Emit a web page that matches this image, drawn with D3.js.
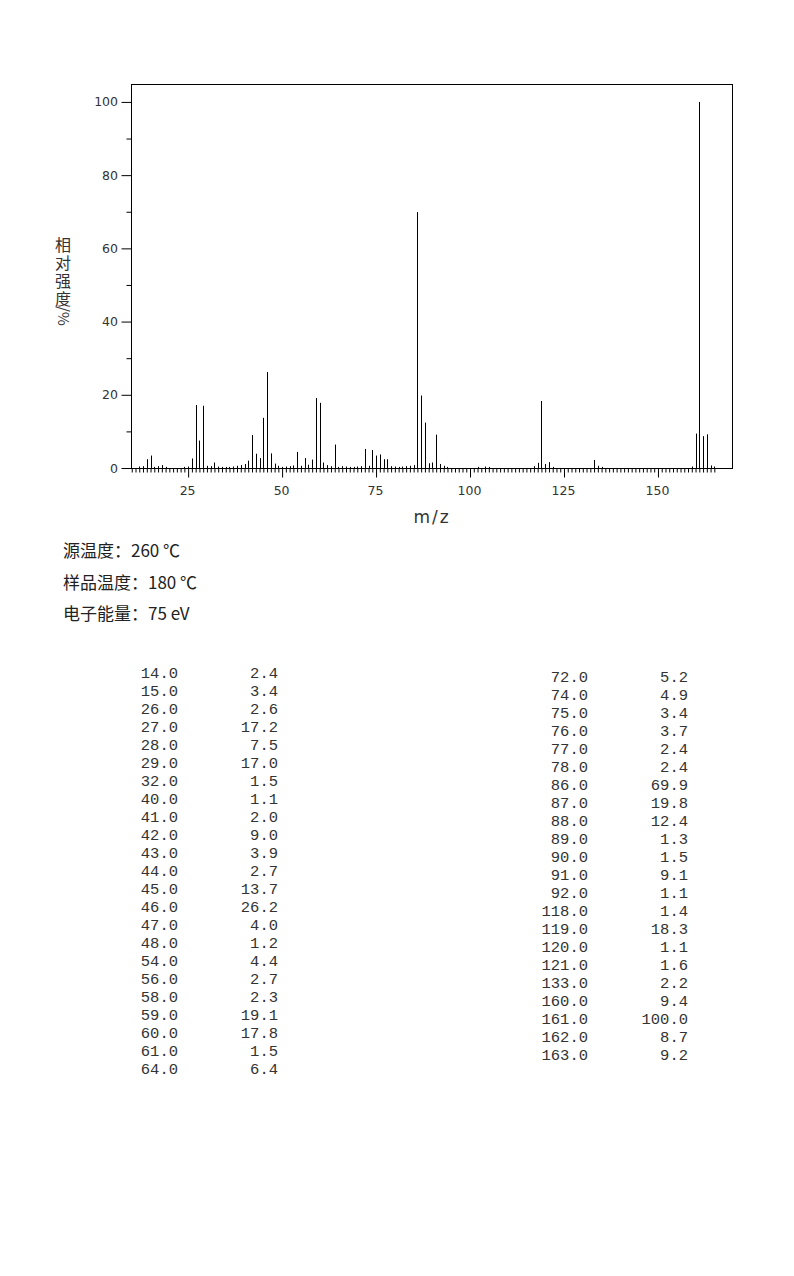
<!DOCTYPE html>
<html>
<head>
<meta charset="utf-8">
<script src="https://cdn.jsdelivr.net/npm/d3@7"></script>
<style>
  body { margin: 0; background: #fff; }
  .tick-label { font-family: 'DejaVu Sans', sans-serif; font-size: 12.5px; fill: #333; }
  .info { font-family: 'Noto Sans CJK SC', sans-serif; font-size: 17px; fill: #222; }
  .peak-table { font-family: 'Liberation Mono', monospace; font-size: 15.5px; fill: #333; }
</style>
</head>
<body>
<svg width="794" height="1276"></svg>
<script>
(function (d3) {
  'use strict';

  // peaks listed in the table (m/z, relative intensity %)
  const peakMz = [14, 15, 26, 27, 28, 29, 32, 40, 41, 42, 43, 44, 45, 46, 47, 48, 54, 56, 58, 59, 60, 61, 64,
    72, 74, 75, 76, 77, 78, 86, 87, 88, 89, 90, 91, 92, 118, 119, 120, 121, 133, 160, 161, 162, 163];
  const peakInt = [2.4, 3.4, 2.6, 17.2, 7.5, 17.0, 1.5, 1.1, 2.0, 9.0, 3.9, 2.7, 13.7, 26.2, 4.0, 1.2, 4.4, 2.7, 2.3, 19.1, 17.8, 1.5, 6.4,
    5.2, 4.9, 3.4, 3.7, 2.4, 2.4, 69.9, 19.8, 12.4, 1.3, 1.5, 9.1, 1.1, 1.4, 18.3, 1.1, 1.6, 2.2, 9.4, 100.0, 8.7, 9.2];

  // small peaks seen in the plot but not listed (estimated)
  const minorMz = [12, 13, 16, 17, 18, 19, 24, 25, 30, 31, 33, 34, 35, 36, 37, 38, 39, 49, 50, 51, 52, 53, 55, 57,
    62, 63, 65, 66, 67, 68, 69, 70, 71, 73, 79, 80, 81, 82, 83, 84, 85, 93, 94, 102, 104, 105, 117, 122, 134, 135, 159, 164, 165];
  const minorInt = [0.4, 0.5, 0.3, 0.5, 0.8, 0.3, 0.3, 0.4, 0.6, 0.5, 0.4, 0.3, 0.3, 0.3, 0.4, 0.6, 0.8, 0.6, 0.3, 0.4, 0.5, 0.7, 0.6, 0.9,
    0.8, 0.5, 0.3, 0.5, 0.4, 0.3, 0.3, 0.4, 0.5, 0.6, 0.5, 0.4, 0.3, 0.4, 0.5, 0.6, 0.8, 0.6, 0.3, 0.3, 0.4, 0.3, 0.5, 0.3, 0.6, 0.3, 0.4, 0.7, 0.4];

  const xTickValues = [25, 50, 75, 100, 125, 150];
  const yTickValues = [0, 20, 40, 60, 80, 100];
  const infoLines = ['源温度：260 ℃', '样品温度：180 ℃', '电子能量：75 eV'];
  const yLabelChars = ['相', '对', '强', '度'];
  const yLabelUnit = '/%';
  const xLabel = 'm/z';

  const svg = d3.select('svg');
  const margin = { top: 84, left: 131, right: 732, bottom: 468 };

  const xScale = d3.scaleLinear()
    .domain([9.8, 169.7])
    .range([margin.left, margin.right]);

  const yScale = d3.scaleLinear()
    .domain([0, 104.9])
    .range([margin.bottom, margin.top]);

  const peaks = peakMz.map((mz, i) => ({ mz, value: peakInt[i] }))
    .concat(minorMz.map((mz, i) => ({ mz, value: minorInt[i] })));

  // frame
  svg.append('rect')
    .attr('x', margin.left + 0.5)
    .attr('y', margin.top + 0.5)
    .attr('width', margin.right - margin.left)
    .attr('height', margin.bottom - margin.top)
    .attr('fill', 'none')
    .attr('stroke', '#000');

  // x axis: a tick for every mass, long ones with labels
  const xAxis = d3.axisBottom(xScale)
    .tickValues(d3.range(10, 166))
    .tickSize(4)
    .tickFormat('');
  const xAxisG = svg.append('g')
    .attr('transform', `translate(0,${margin.bottom + 0.5})`)
    .call(xAxis);
  xAxisG.select('.domain').remove();
  xAxisG.selectAll('.tick line')
    .attr('y2', d => (d % 25 === 0 ? 9 : 4));

  svg.append('g').selectAll('text')
    .data(xTickValues)
    .join('text')
      .attr('class', 'tick-label')
      .attr('x', d => xScale(d) - 0.5)
      .attr('y', margin.bottom + 27)
      .attr('text-anchor', 'middle')
      .text(d => d);

  // y axis
  const yAxis = d3.axisLeft(yScale)
    .tickValues(d3.range(0, 101, 10))
    .tickSize(5)
    .tickFormat('');
  const yAxisG = svg.append('g')
    .attr('transform', `translate(${margin.left + 0.5},0)`)
    .call(yAxis);
  yAxisG.select('.domain').remove();
  yAxisG.selectAll('.tick line')
    .attr('x2', d => (d % 20 === 0 ? -10 : -5));

  svg.append('g').selectAll('text')
    .data(yTickValues)
    .join('text')
      .attr('class', 'tick-label')
      .attr('x', margin.left - 13)
      .attr('y', d => yScale(d) + 4.5)
      .attr('text-anchor', 'end')
      .text(d => d);

  // peaks
  svg.append('g').selectAll('line')
    .data(peaks)
    .join('line')
      .attr('x1', d => Math.round(xScale(d.mz)) + 0.5)
      .attr('x2', d => Math.round(xScale(d.mz)) + 0.5)
      .attr('y1', yScale(0))
      .attr('y2', d => yScale(d.value))
      .attr('stroke', '#000')
      .attr('stroke-width', 1);

  // axis titles
  svg.append('text')
    .attr('x', 432)
    .attr('y', 523)
    .attr('text-anchor', 'middle')
    .attr('font-family', 'DejaVu Sans, sans-serif')
    .attr('font-size', 17)
    .attr('letter-spacing', 2)
    .attr('fill', '#333')
    .text(xLabel);

  // vertical y title: stacked characters, unit turned sideways
  const yLabelG = svg.append('g')
    .attr('font-family', 'Noto Sans CJK SC, sans-serif')
    .attr('font-size', 16)
    .attr('fill', '#333');
  yLabelG.selectAll('.ychar')
    .data(yLabelChars)
    .join('text')
      .attr('class', 'ychar')
      .attr('text-anchor', 'middle')
      .attr('x', 63)
      .attr('y', (d, i) => 251 + i * 18)
      .text(d => d);
  yLabelG.append('text')
    .attr('transform', 'translate(58,306) rotate(90)')
    .attr('font-size', 15)
    .text(yLabelUnit);

  // acquisition info
  svg.append('g').selectAll('text')
    .data(infoLines)
    .join('text')
      .attr('class', 'info')
      .attr('x', 63)
      .attr('y', (d, i) => 557 + i * 31.5)
      .text(d => d);

  // peak table, split in two columns
  const fmt = d3.format('.1f');
  const rows = peakMz.map((mz, i) => ({ mz, value: peakInt[i] }));
  const leftRows = rows.slice(0, 23);
  const rightRows = rows.slice(23);

  const drawColumn = (data, mzX, valX, top) => {
    const g = svg.append('g').attr('class', 'peak-table');
    g.selectAll('.mz')
      .data(data)
      .join('text')
        .attr('class', 'mz')
        .attr('x', mzX)
        .attr('y', (d, i) => top + i * 18)
        .attr('text-anchor', 'end')
        .text(d => fmt(d.mz));
    g.selectAll('.val')
      .data(data)
      .join('text')
        .attr('class', 'val')
        .attr('x', valX)
        .attr('y', (d, i) => top + i * 18)
        .attr('text-anchor', 'end')
        .text(d => fmt(d.value));
  };

  drawColumn(leftRows, 178, 278, 678);
  drawColumn(rightRows, 588, 688, 682);

}(d3));
</script>
</body>
</html>
